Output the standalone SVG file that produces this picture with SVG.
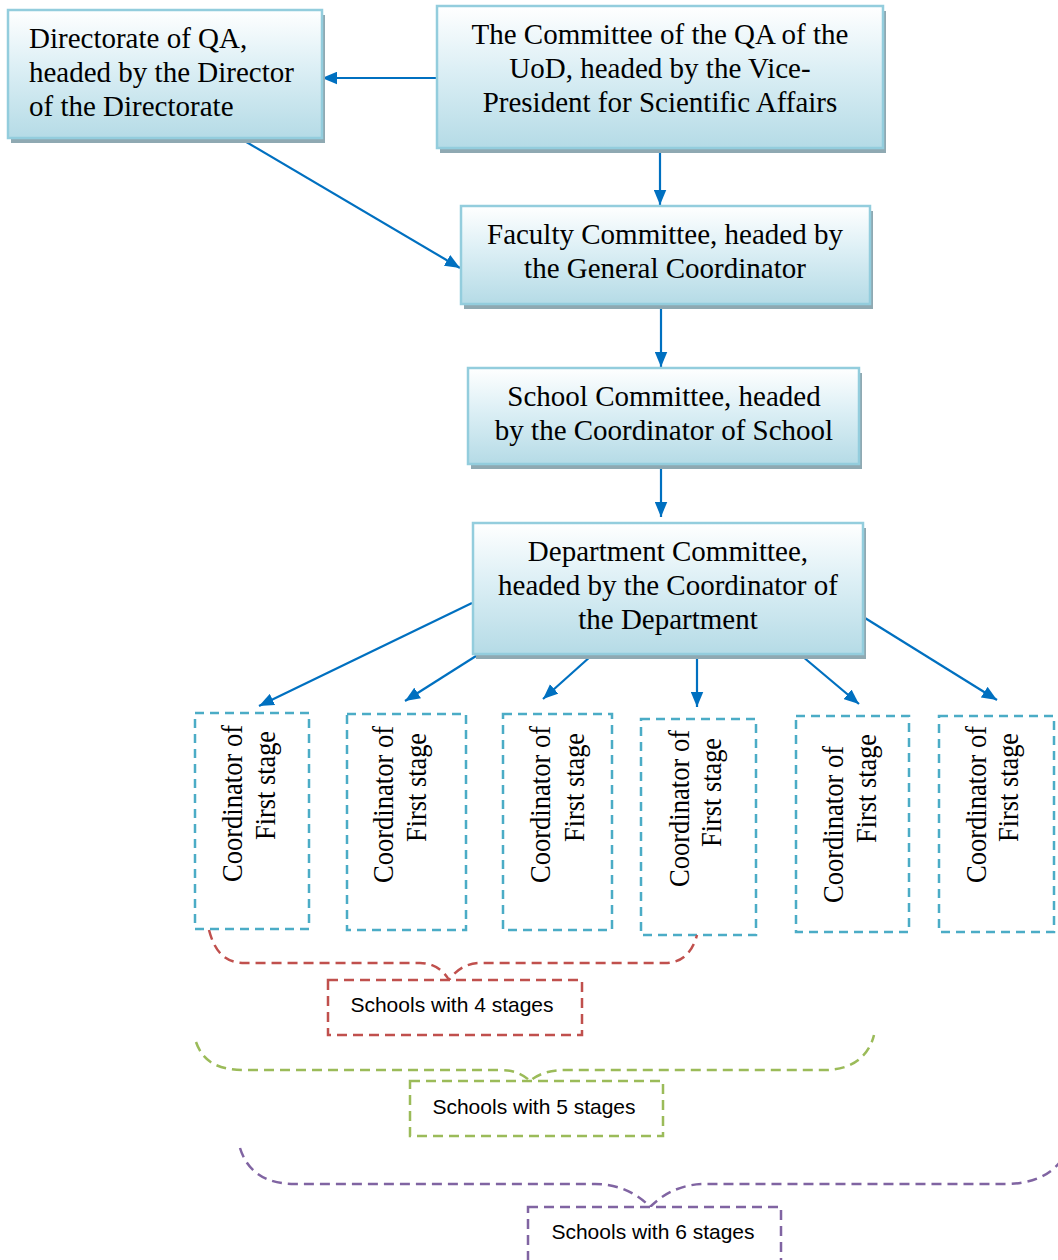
<svg xmlns="http://www.w3.org/2000/svg" width="1058" height="1260" viewBox="0 0 1058 1260">
<defs>
<linearGradient id="g" x1="0" y1="0" x2="0" y2="1">
<stop offset="0" stop-color="#ffffff"/>
<stop offset="0.45" stop-color="#dceff5"/>
<stop offset="1" stop-color="#b5dbe6"/>
</linearGradient>
<marker id="arr" viewBox="0 0 12 10" refX="12" refY="5" markerWidth="15" markerHeight="13" orient="auto" markerUnits="userSpaceOnUse">
<path d="M0,0 L12,5 L0,10 z" fill="#0070c0"/>
</marker>
<style>
.sh{fill:#8fa9b2}
.bx{fill:url(#g);stroke:#93cddd;stroke-width:2.5}
.t{font-family:"Liberation Serif","Times New Roman",serif;font-size:29px;fill:#000}
.c{text-anchor:middle}
.rt{font-family:"Liberation Serif","Times New Roman",serif;font-size:29px;fill:#000}
.cb{fill:#fff;stroke:#4bacc6;stroke-width:2.5;stroke-dasharray:9 6}
.ln{stroke:#0070c0;stroke-width:2.2;fill:none;marker-end:url(#arr)}
.br{fill:none;stroke-width:2.5;stroke-dasharray:10 6}
.lb{fill:#fff;stroke-width:2.5;stroke-dasharray:10 6}
.s{font-family:"Liberation Sans",Arial,sans-serif;font-size:21px;fill:#000;text-anchor:middle}
</style>
</defs>

<g id="connectors">
<path class="ln" d="M437,78 L322,78"/>
<path class="ln" d="M660,152 L660,205"/>
<path class="ln" d="M243,140 L460,268"/>
<path class="ln" d="M661,308 L661,367"/>
<path class="ln" d="M661,468 L661,517"/>
<path class="ln" d="M472,603 L259,706"/>
<path class="ln" d="M476,656 L405,701"/>
<path class="ln" d="M591,656 L543,699"/>
<path class="ln" d="M697,656 L697,707"/>
<path class="ln" d="M802,656 L859,704"/>
<path class="ln" d="M865,618 L997,700"/>
</g>

<g id="directorate">
<rect class="sh" x="11" y="15" width="314" height="128"/>
<rect class="bx" x="8" y="10" width="314" height="128"/>
<text class="t" x="29" y="48">Directorate of QA,</text>
<text class="t" x="29" y="82">headed by the Director</text>
<text class="t" x="29" y="116">of the Directorate</text>
</g>

<g id="committee">
<rect class="sh" x="440" y="11" width="446" height="142"/>
<rect class="bx" x="437" y="6" width="446" height="142"/>
<text class="t c" x="660" y="44">The Committee of the QA of the</text>
<text class="t c" x="660" y="78">UoD, headed by the Vice-</text>
<text class="t c" x="660" y="112">President for Scientific Affairs</text>
</g>

<g id="faculty">
<rect class="sh" x="464" y="211" width="409" height="98"/>
<rect class="bx" x="461" y="206" width="409" height="98"/>
<text class="t c" x="665" y="244">Faculty Committee, headed by</text>
<text class="t c" x="665" y="278">the General Coordinator</text>
</g>

<g id="school">
<rect class="sh" x="471" y="373" width="391" height="96"/>
<rect class="bx" x="468" y="368" width="391" height="96"/>
<text class="t c" x="664" y="406">School Committee, headed</text>
<text class="t c" x="664" y="440">by the Coordinator of School</text>
</g>

<g id="department">
<rect class="sh" x="476" y="528" width="390" height="131"/>
<rect class="bx" x="473" y="523" width="390" height="131"/>
<text class="t c" x="668" y="561">Department Committee,</text>
<text class="t c" x="668" y="595">headed by the Coordinator of</text>
<text class="t c" x="668" y="629">the Department</text>
</g>

<g id="coord1">
<rect class="cb" x="195" y="713" width="114" height="216"/>
<text class="rt" transform="translate(242,882) rotate(-90)" textLength="157" lengthAdjust="spacingAndGlyphs">Coordinator of</text>
<text class="rt" transform="translate(275,840) rotate(-90)" textLength="109" lengthAdjust="spacingAndGlyphs">First stage</text>
</g>
<g id="coord2">
<rect class="cb" x="347" y="714" width="119" height="216"/>
<text class="rt" transform="translate(393,883) rotate(-90)" textLength="157" lengthAdjust="spacingAndGlyphs">Coordinator of</text>
<text class="rt" transform="translate(426,842) rotate(-90)" textLength="109" lengthAdjust="spacingAndGlyphs">First stage</text>
</g>
<g id="coord3">
<rect class="cb" x="503" y="714" width="109" height="216"/>
<text class="rt" transform="translate(550,883) rotate(-90)" textLength="157" lengthAdjust="spacingAndGlyphs">Coordinator of</text>
<text class="rt" transform="translate(584,842) rotate(-90)" textLength="109" lengthAdjust="spacingAndGlyphs">First stage</text>
</g>
<g id="coord4">
<rect class="cb" x="641" y="719" width="115" height="216"/>
<text class="rt" transform="translate(689,887) rotate(-90)" textLength="157" lengthAdjust="spacingAndGlyphs">Coordinator of</text>
<text class="rt" transform="translate(721,847) rotate(-90)" textLength="109" lengthAdjust="spacingAndGlyphs">First stage</text>
</g>
<g id="coord5">
<rect class="cb" x="796" y="716" width="113" height="216"/>
<text class="rt" transform="translate(843,903) rotate(-90)" textLength="157" lengthAdjust="spacingAndGlyphs">Coordinator of</text>
<text class="rt" transform="translate(876,843) rotate(-90)" textLength="109" lengthAdjust="spacingAndGlyphs">First stage</text>
</g>
<g id="coord6">
<rect class="cb" x="939" y="716" width="115" height="216"/>
<text class="rt" transform="translate(986,883) rotate(-90)" textLength="157" lengthAdjust="spacingAndGlyphs">Coordinator of</text>
<text class="rt" transform="translate(1018,842) rotate(-90)" textLength="109" lengthAdjust="spacingAndGlyphs">First stage</text>
</g>

<g id="brace4">
<path class="br" stroke="#c0504d" d="M209,930 C215,953 226,963 245,963 L420,963 C434,963 444,971 449,980 C455,971 466,963 480,963 L665,963 C684,963 693,950 697,935"/>
</g>
<g id="label4">
<rect class="lb" stroke="#c0504d" x="328" y="980" width="254" height="55"/>
<text class="s" x="452" y="1012">Schools with 4 stages</text>
</g>

<g id="brace5">
<path class="br" stroke="#9bbb59" d="M196,1042 C203,1062 218,1070 245,1070 L500,1070 C515,1070 524,1075 530,1081 C537,1075 548,1070 565,1070 L825,1070 C852,1070 869,1056 874,1035"/>
</g>
<g id="label5">
<rect class="lb" stroke="#9bbb59" x="410" y="1081" width="253" height="55"/>
<text class="s" x="534" y="1114">Schools with 5 stages</text>
</g>

<g id="brace6">
<path class="br" stroke="#8064a2" d="M240,1148 C247,1171 265,1184 295,1184 L595,1184 C620,1184 639,1195 650,1207 C662,1195 680,1184 705,1184 L1005,1184 C1030,1184 1049,1176 1060,1162"/>
</g>
<g id="label6">
<rect class="lb" stroke="#8064a2" x="528" y="1207" width="253" height="70"/>
<text class="s" x="653" y="1239">Schools with 6 stages</text>
</g>
</svg>
